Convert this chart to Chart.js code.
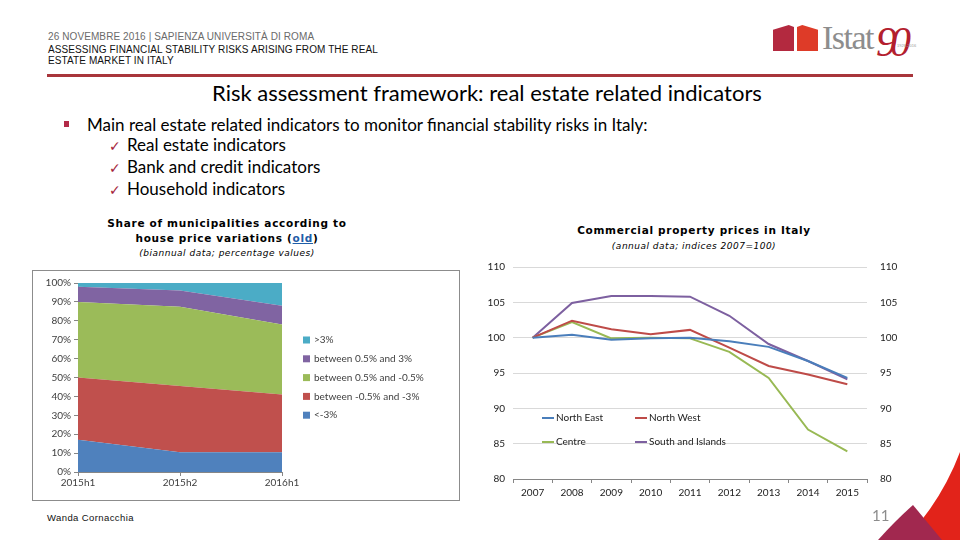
<!DOCTYPE html>
<html>
<head>
<meta charset="utf-8">
<script src="https://cdn.jsdelivr.net/npm/chart.js@4.4.1/dist/chart.umd.min.js"></script>
<style>
  body { margin: 0; width: 960px; height: 540px; background: #fff; position: relative; overflow: hidden; font-family: "Liberation Sans", Arial, sans-serif; }
  .abs { position: absolute; white-space: nowrap; }
  .hdr { font-size: 10px; line-height: 11px; letter-spacing: 0.1px; }
  .title { font-family: Lato, sans-serif; font-size: 22px; line-height: 24px; color: #000; }
  .body { font-family: Lato, sans-serif; font-size: 17px; line-height: 22px; color: #000; }
  .ctitle { font-family: "DejaVu Sans", Verdana, sans-serif; font-size: 9px; text-align: center; color: #000; }
  .ctitle b { font-size: 10.5px; letter-spacing: 0.7px; }
  .ctitle i { font-size: 9px; letter-spacing: 0.5px; }
  .tick { color: #a51f3b; font-family: "DejaVu Sans", sans-serif; font-size: 14px; }
</style>
</head>
<body>
<div class="abs hdr" style="left:48px;top:31px;color:#6a6a6a;">26 NOVEMBRE 2016 | SAPIENZA UNIVERSITÀ DI ROMA</div>
<div class="abs hdr" style="left:48px;top:44px;color:#111;">ASSESSING FINANCIAL STABILITY RISKS ARISING FROM THE REAL<br>ESTATE MARKET IN ITALY</div>
<div class="abs" style="left:47px;top:74px;width:866px;height:3px;background:#a8353b;"></div>

<!-- logo -->
<div class="abs" style="left:773px;top:25px;width:21px;height:26px;background:#b3293f;clip-path:polygon(0 18%,75% 0,100% 8%,100% 100%,0 100%);"></div>
<div class="abs" style="left:797px;top:25px;width:21px;height:26px;background:#de3b28;clip-path:polygon(0 8%,25% 0,100% 18%,100% 100%,0 100%);"></div>
<div class="abs" style="left:822px;top:19px;font-family:'Liberation Serif',serif;font-size:34px;line-height:38px;color:#8d8d8d;letter-spacing:-1.5px;">Istat</div>
<div class="abs" style="left:876px;top:20px;font-family:'Liberation Serif',serif;font-style:italic;font-size:42px;line-height:44px;color:#b3202e;letter-spacing:-7px;">90</div>
<div class="abs" style="left:897px;top:43px;font-size:4px;color:#999;">1926-2016</div>

<div class="abs title" style="left:212px;top:81px;">Risk assessment framework: real estate related indicators</div>

<div class="abs" style="left:64px;top:121px;width:5px;height:6px;background:#b32a48;"></div>
<div class="abs body" style="left:87px;top:114px;">Main real estate related indicators to monitor financial stability risks in Italy:</div>
<div class="abs body" style="left:109px;top:134px;"><span class="tick">✓</span></div>
<div class="abs body" style="left:109px;top:156px;"><span class="tick">✓</span></div>
<div class="abs body" style="left:109px;top:178px;"><span class="tick">✓</span></div>
<div class="abs body" style="left:127px;top:134px;">Real estate indicators<br>Bank and credit indicators<br>Household indicators</div>

<div class="abs ctitle" style="left:77px;top:216px;width:300px;line-height:14px;">
  <b>Share of municipalities according to</b><br>
  <b>house price variations (<span style="color:#1f5ea8;text-decoration:underline;">old</span>)</b><br>
  <i>(biannual data; percentage values)</i>
</div>
<div class="abs ctitle" style="left:544px;top:223px;width:300px;line-height:15px;">
  <b>Commercial property prices in Italy</b><br>
  <i>(annual data; indices 2007=100)</i>
</div>

<div class="abs" style="left:32px;top:270px;width:426px;height:229px;border:1px solid #8c8c8c;">
  <canvas id="shareChart" width="426" height="229"></canvas>
</div>
<div class="abs" style="left:480px;top:248px;width:440px;height:255px;">
  <canvas id="priceChart" width="440" height="255"></canvas>
</div>

<div class="abs" style="left:47px;top:512px;font-size:9.5px;letter-spacing:0.4px;color:#111;">Wanda Cornacchia</div>

<svg class="abs" style="left:0;top:0;" width="960" height="540">
  <path d="M960,452 Q942,500 905,540 L960,540 Z" fill="#e2231a"/>
  <path d="M913,505 L942,540 L878,540 Q896,520 913,505 Z" fill="#a1284f"/>
</svg>
<div class="abs" style="left:872px;top:506px;font-family:Lato,sans-serif;font-size:15px;color:#8c8c8c;">11</div>

<script>
// share of municipalities (biannual, %)
const periods = ["2015h1", "2015h2", "2016h1"];
const belowMinus3 = [17, 10.5, 10.5];
const minus3toMinus05 = [33, 35, 30.5];
const minus05to05 = [40, 42, 37];
const plus05to3 = [8, 8.5, 10];
const above3 = [2, 4, 12];

// commercial property prices (2007=100)
const years = ["2007", "2008", "2009", "2010", "2011", "2012", "2013", "2014", "2015"];
const northEast = [100, 100.4, 99.7, 99.9, 100, 99.5, 98.7, 96.7, 94.3];
const northWest = [100, 102.4, 101.2, 100.5, 101.1, 98.6, 96.0, 94.8, 93.4];
const centre = [100, 102.2, 99.9, 100, 99.9, 98.0, 94.3, 87.0, 83.9];
const southIslands = [100, 104.9, 105.9, 105.9, 105.8, 103.1, 99.1, 96.7, 94.1];

// legend drawn at a fixed spot (Excel style)
const placedLegend = {
  id: "placedLegend",
  afterDraw(chart, args, o) {
    const ctx = chart.ctx;
    const ds = chart.data.datasets;
    const order = ds.map((d, i) => i);
    if (o.reverse) order.reverse();
    ctx.save();
    ctx.font = o.font;
    ctx.textBaseline = "middle";
    order.forEach((idx, k) => {
      const x = o.x + (k % o.cols) * o.dx;
      const y = o.y + Math.floor(k / o.cols) * o.dy;
      const d = ds[idx];
      if (o.kind === "line") {
        ctx.strokeStyle = d.borderColor;
        ctx.lineWidth = 2;
        ctx.beginPath();
        ctx.moveTo(x, y);
        ctx.lineTo(x + o.mark, y);
        ctx.stroke();
      } else {
        ctx.fillStyle = d.backgroundColor;
        ctx.fillRect(x, y - o.mark / 2, o.mark, o.mark);
      }
      ctx.fillStyle = o.color;
      ctx.fillText(d.label, x + o.mark + o.gap, y);
    });
    ctx.restore();
  }
};

const tickFont = { family: "Lato", size: 10 };

function area(label, values, color, fill) {
  return { label: label, data: values, backgroundColor: color, borderColor: color, borderWidth: 0, fill: fill, pointRadius: 0, tension: 0 };
}

new Chart(document.getElementById("shareChart"), {
  type: "line",
  data: {
    labels: periods,
    datasets: [
      area("<-3%", belowMinus3, "#4f81bd", "origin"),
      area("between -0.5% and -3%", minus3toMinus05, "#c0504d", "-1"),
      area("between 0.5% and -0.5%", minus05to05, "#9bbb59", "-1"),
      area("between 0.5% and 3%", plus05to3, "#8064a2", "-1"),
      area(">3%", above3, "#4bacc6", "-1"),
    ],
  },
  options: {
    animation: false,
    responsive: false,
    layout: { padding: { left: 5, right: 177, top: 12, bottom: 6 } },
    plugins: {
      legend: { display: false },
      tooltip: { enabled: false },
      placedLegend: { x: 270, y: 69, dx: 0, dy: 18.8, cols: 1, reverse: true, kind: "box", mark: 7, gap: 4, font: "10px Lato", color: "#404040" },
    },
    scales: {
      x: {
        offset: false,
        grid: { drawOnChartArea: false, tickLength: 4, color: "#868686" },
        border: { color: "#868686" },
        ticks: { color: "#404040", font: tickFont, padding: 1, maxRotation: 0 },
        afterFit: (s) => { s.height = 22; },
      },
      y: {
        stacked: true,
        min: 0,
        max: 100,
        grid: { drawOnChartArea: false, tickLength: 4, color: "#868686" },
        border: { color: "#868686" },
        ticks: { stepSize: 10, color: "#404040", font: tickFont, padding: 3, callback: (v) => v + "%" },
        afterFit: (s) => { s.width = 40; },
      },
    },
  },
  plugins: [placedLegend],
});

function line(label, values, color) {
  return { label: label, data: values, borderColor: color, backgroundColor: color, borderWidth: 2, pointRadius: 0, tension: 0, fill: false };
}

new Chart(document.getElementById("priceChart"), {
  type: "line",
  data: {
    labels: years,
    datasets: [
      line("North East", northEast, "#4a7ebb"),
      line("North West", northWest, "#be4b48"),
      line("Centre", centre, "#98b954"),
      line("South and Islands", southIslands, "#7d60a0"),
    ],
  },
  options: {
    animation: false,
    responsive: false,
    layout: { padding: { left: 5, right: 23, top: 0, bottom: 0 } },
    plugins: {
      legend: { display: false },
      tooltip: { enabled: false },
      placedLegend: { x: 62, y: 170, dx: 93, dy: 24, cols: 2, reverse: false, kind: "line", mark: 12, gap: 2, font: "10px Lato", color: "#222" },
    },
    scales: {
      x: {
        offset: true,
        grid: { offset: true, drawOnChartArea: false, tickLength: 4, color: "#868686" },
        border: { color: "#868686" },
        ticks: { color: "#222", font: tickFont, padding: 4, maxRotation: 0 },
        afterFit: (s) => { s.height = 24; },
      },
      y: {
        position: "left",
        min: 80,
        max: 110,
        grid: { color: "#d9d9d9", drawTicks: false },
        border: { display: false },
        ticks: { stepSize: 5, color: "#222", font: tickFont, padding: 8 },
        afterFit: (s) => { s.width = 28; },
      },
      y2: {
        position: "right",
        min: 80,
        max: 110,
        grid: { display: false, drawTicks: false },
        border: { display: false },
        ticks: { stepSize: 5, color: "#222", font: tickFont, padding: 13 },
        afterFit: (s) => { s.width = 30; },
      },
    },
  },
  plugins: [placedLegend],
});
</script>
</body>
</html>
